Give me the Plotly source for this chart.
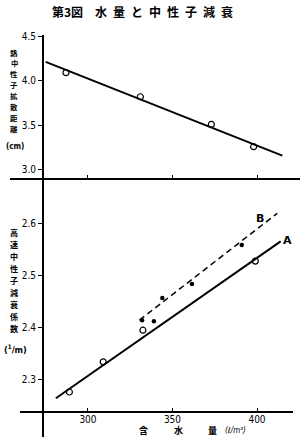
import plotly.graph_objects as go

# ---- data ----
title_text = "第3図\u3000水\u2002量\u2002と\u2002中\u2002性\u2002子\u2002減\u2002衰"
x_ticks = [300, 350, 400]
top_ticks = [3.0, 3.5, 4.0, 4.5]
bot_ticks = [2.3, 2.4, 2.5, 2.6]

# thermal neutron diffusion length (cm)
diff_x = [287, 331, 373, 398]
diff_y = [4.09, 3.82, 3.51, 3.26]
diff_fit_x = [275, 415]
diff_fit_y = [4.21, 3.16]

# fast neutron attenuation coefficient, series A (open circles)
a_x = [289, 309, 332.5, 399]
a_y = [2.275, 2.333, 2.394, 2.527]
a_fit_x = [281, 414]
a_fit_y = [2.263, 2.565]

# series B (filled dots)
b_x = [332, 339, 344, 361.5, 391]
b_y = [2.413, 2.411, 2.456, 2.483, 2.558]
b_fit_x = [330.5, 412]
b_fit_y = [2.4135, 2.619]

top_title_chars = ["熱", "中", "性", "子", "拡", "散", "距", "離"]
bot_title_chars = ["高", "速", "中", "性", "子", "減", "衰", "係", "数"]
x_title_chars = ["含", "水", "量"]

W, H = 300, 437
L, R, T, B = 43, 7, 35, 25
PW, PH = W - L - R, H - T - B
def px(xp):
    return (xp - L) / PW
def py(yp):
    return (H - B - yp) / PH

split = py(179)
X_RANGE = [273.4, 421.3]

fig = go.Figure()
blk = "black"
tickfont = dict(family="DejaVu Sans Condensed", size=10, color=blk)

# top panel
fig.add_trace(go.Scatter(x=diff_fit_x, y=diff_fit_y, mode="lines",
                         line=dict(color=blk, width=2), xaxis="x2", yaxis="y2", showlegend=False))
fig.add_trace(go.Scatter(x=diff_x, y=diff_y, mode="markers",
                         marker=dict(symbol="circle-open", size=6, color=blk, line=dict(width=1.2)),
                         xaxis="x2", yaxis="y2", showlegend=False))
# bottom panel
fig.add_trace(go.Scatter(x=a_fit_x, y=a_fit_y, mode="lines",
                         line=dict(color=blk, width=2), showlegend=False))
fig.add_trace(go.Scatter(x=b_fit_x, y=b_fit_y, mode="lines",
                         line=dict(color=blk, width=1.5, dash="6px,4px"), showlegend=False))
fig.add_trace(go.Scatter(x=a_x, y=a_y, mode="markers",
                         marker=dict(symbol="circle-open", size=6, color=blk, line=dict(width=1.2)),
                         showlegend=False))
fig.add_trace(go.Scatter(x=b_x, y=b_y, mode="markers",
                         marker=dict(symbol="circle", size=4.5, color=blk), showlegend=False))

fig.update_layout(
    width=W, height=H,
    margin=dict(l=L, r=R, t=T, b=B),
    paper_bgcolor="white", plot_bgcolor="white",
    xaxis=dict(domain=[0, 1], anchor="y", range=X_RANGE, tickvals=x_ticks,
               ticktext=[str(v) for v in x_ticks], ticks="inside", ticklen=4,
               tickcolor=blk, showgrid=False, zeroline=False, showline=False,
               tickfont=tickfont),
    xaxis2=dict(domain=[0, 1], anchor="y2", range=X_RANGE, tickvals=x_ticks,
                showticklabels=False, ticks="inside", ticklen=4, tickcolor=blk,
                showgrid=False, zeroline=False, showline=False),
    yaxis=dict(domain=[0, split], anchor="x", range=[2.2365, 2.685],
               tickvals=bot_ticks, ticktext=[f"{v:.1f}" for v in bot_ticks],
               ticks="outside", ticklen=4, tickcolor=blk, showgrid=False,
               zeroline=False, showline=False, tickfont=tickfont),
    yaxis2=dict(domain=[split, 1], anchor="x2", range=[2.898, 4.512],
                tickvals=top_ticks, ticktext=[f"{v:.1f}" for v in top_ticks],
                ticks="outside", ticklen=4, tickcolor=blk, showgrid=False,
                zeroline=False, showline=False, tickfont=tickfont),
)

# axis lines drawn as in the figure
line = dict(color=blk, width=2)
fig.add_shape(type="line", xref="paper", yref="paper", x0=0, x1=0, y0=py(437), y1=py(35), line=line)
fig.add_shape(type="line", xref="paper", yref="paper", x0=px(20), x1=px(293), y0=0, y1=0, line=line)
fig.add_shape(type="line", xref="paper", yref="paper", x0=px(10), x1=px(300), y0=split, y1=split, line=line)

# title
fig.add_annotation(text=f"<b>{title_text}</b>", xref="paper", yref="paper",
                   x=px(142), y=py(12), showarrow=False, xanchor="center", yanchor="middle",
                   font=dict(family="Noto Sans CJK JP", size=12, color=blk))

# top y title (vertical, one character per row)
for i, ch in enumerate(top_title_chars):
    fig.add_annotation(text=f"<b>{ch}</b>", xref="paper", yref="paper", x=px(14), y=py(52 + i * 10.9),
                       showarrow=False, xanchor="center", yanchor="middle",
                       font=dict(family="Noto Sans CJK JP", size=7.4, color=blk))
fig.add_annotation(text="<b>(cm)</b>", xref="paper", yref="paper", x=px(15), y=py(146),
                   showarrow=False, xanchor="center", yanchor="middle",
                   font=dict(family="DejaVu Sans Condensed", size=8, color=blk))
# bottom y title (vertical, one character per row)
for i, ch in enumerate(bot_title_chars):
    fig.add_annotation(text=f"<b>{ch}</b>", xref="paper", yref="paper", x=px(14), y=py(233 + i * 11.9),
                       showarrow=False, xanchor="center", yanchor="middle",
                       font=dict(family="Noto Sans CJK JP", size=8.1, color=blk))
fig.add_annotation(text="<b>(<sup>1</sup>/m)</b>", xref="paper", yref="paper", x=px(15), y=py(349),
                   showarrow=False, xanchor="center", yanchor="middle",
                   font=dict(family="DejaVu Sans Condensed", size=9, color=blk))

# x title
cjk = dict(family="Noto Sans CJK JP", size=9, color=blk)
for xp, ch in zip([143, 178, 212], x_title_chars):
    fig.add_annotation(text=f"<b>{ch}</b>", xref="paper", yref="paper", x=px(xp), y=py(430),
                       showarrow=False, xanchor="center", yanchor="middle", font=cjk)
fig.add_annotation(text="<i>(ℓ/m³)</i>", xref="paper", yref="paper", x=px(223), y=py(430),
                   showarrow=False, xanchor="left", yanchor="middle",
                   font=dict(family="DejaVu Sans Condensed", size=8, color=blk))

# series labels
fig.add_annotation(text="<b>B</b>", x=b_fit_x[1] - 10, y=b_fit_y[1] - 0.01, xref="x", yref="y",
                   showarrow=False, xanchor="center", yanchor="middle",
                   font=dict(family="DejaVu Sans", size=11, color=blk))
fig.add_annotation(text="<b>A</b>", x=a_fit_x[1] + 4, y=a_fit_y[1] + 0.002, xref="x", yref="y",
                   showarrow=False, xanchor="center", yanchor="middle",
                   font=dict(family="DejaVu Sans", size=11, color=blk))

fig.write_html("out.html")
